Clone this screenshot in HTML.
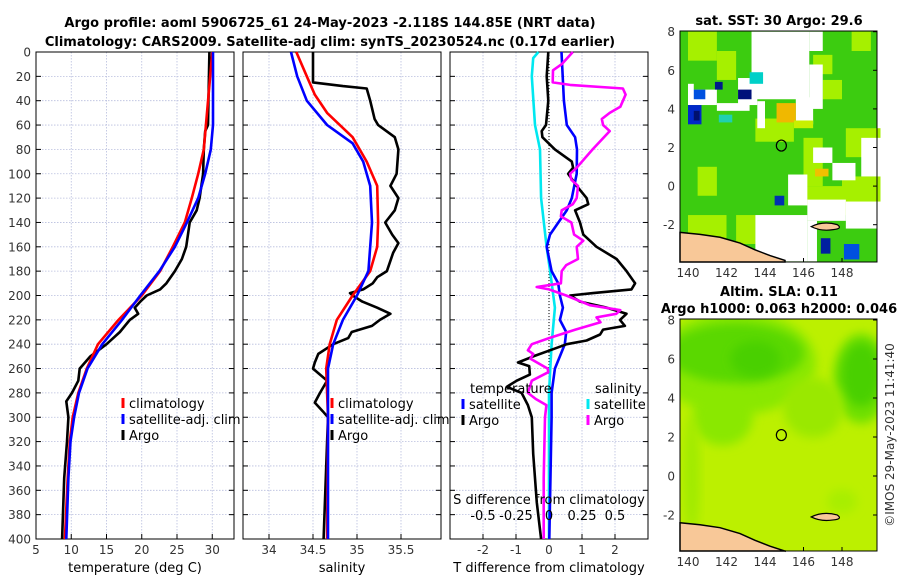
<!DOCTYPE html>
<html><head><meta charset="utf-8">
<style>
body{margin:0;background:#fff;}
svg{display:block;font-family:"DejaVu Sans","Liberation Sans",sans-serif;}
.tk{font-size:12px;fill:#333;}
.ttl{font-size:13px;font-weight:bold;fill:#000;}
.lg{font-size:13px;fill:#000;}
</style></head><body>
<svg id="chart" width="900" height="580" viewBox="0 0 900 580" xmlns="http://www.w3.org/2000/svg">
<text class="ttl" x="330" y="27" text-anchor="middle">Argo profile: aoml 5906725_61 24-May-2023 -2.118S 144.85E (NRT data)</text>
<text class="ttl" x="330" y="46" text-anchor="middle">Climatology: CARS2009. Satellite-adj clim: synTS_20230524.nc (0.17d earlier)</text>
<g id="g"></g>
</svg>
<script>
// ---- data (depth m) ----
const depthTA=[0,60,65,80,100,120,130,140,160,170,180,190,195,200,205,210,215,220,230,240,250,260,270,280,287,300,320,350,400];
const tempArgo=[29.6,29.4,29.0,28.8,28.7,28.2,27.8,26.8,26.3,25.7,24.7,23.5,22.6,20.7,19.8,19.0,19.5,18.3,16.9,15.0,12.7,11.2,11.0,10.1,9.3,9.6,9.4,9.0,8.7];
const depthTC=[0,80,100,120,140,160,180,200,220,240,260,280,300,320,350,400];
const tempClim=[30.0,28.8,28.0,27.1,26.1,24.4,22.6,20.0,16.7,13.8,12.2,11.0,10.2,9.8,9.5,9.1];
const depthTS=[0,60,80,100,120,140,160,180,200,220,240,260,280,300,320,350,400];
const tempSat=[30.1,30.1,29.8,29.0,28.0,26.4,24.7,22.5,19.8,17.2,14.4,12.3,11.1,10.4,9.9,9.6,9.3];
const depthSA=[0,25,28,30,40,55,60,70,80,100,110,120,130,140,150,157,165,180,185,190,195,198,200,205,210,215,220,225,230,235,240,248,255,260,265,270,280,288,295,300,320,400];
const salArgo=[34.50,34.50,34.84,35.11,35.15,35.20,35.24,35.43,35.47,35.45,35.38,35.47,35.43,35.32,35.40,35.47,35.41,35.34,35.23,35.18,35.07,34.92,34.95,35.06,35.23,35.38,35.26,35.17,34.94,34.90,34.73,34.56,34.52,34.50,34.58,34.66,34.58,34.52,34.61,34.67,34.66,34.62];
const depthSC=[0,20,35,50,70,90,110,140,160,180,200,220,240,260,300,400];
const salClim=[34.31,34.43,34.52,34.66,34.95,35.11,35.23,35.24,35.23,35.15,34.95,34.77,34.69,34.65,34.67,34.66];
const depthSS=[0,20,40,60,75,90,110,140,180,200,220,240,260,300,400];
const salSat=[34.25,34.32,34.43,34.66,34.95,35.07,35.15,35.17,35.13,35.00,34.84,34.73,34.67,34.67,34.67];
const depthDSS=[0,5,20,60,80,120,160,180,210,240,280,300,400];
const dSalSat=[-0.08,-0.12,-0.13,-0.106,-0.068,-0.06,-0.018,0.008,0.045,0.02,0,0,0];
const depthDTS=[0,40,60,70,80,100,120,130,150,160,180,190,200,210,220,230,240,260,280,300,400];
const dTempSat=[0.38,0.45,0.54,0.79,0.85,0.84,0.69,0.54,0.03,-0.07,0.08,0.28,0.33,0.42,0.33,0.52,0.48,0.18,0.08,0.08,0.01];
const depthDTA=[0,20,40,60,65,70,80,90,95,100,110,120,125,130,140,150,160,170,180,190,195,198,200,205,210,215,220,225,228,232,237,240,245,250,255,258,265,270,275,280,290,300,330,370,400];
const dTempArgo=[-0.02,-0.07,-0.02,-0.09,-0.22,-0.2,0.18,0.69,0.73,0.58,0.84,1.14,1.19,0.79,0.94,1.04,1.44,2.05,2.35,2.61,2.5,1.34,0.64,0.94,1.75,2.35,2.15,2.3,1.64,1.55,1.14,0.54,0.03,-0.48,-0.94,-0.6,-0.58,-0.98,-1.28,-0.83,-0.64,-0.52,-0.48,-0.37,-0.24];
const depthDSA=[0,10,15,25,27,30,35,45,50,55,60,65,80,95,100,105,110,120,125,130,135,140,150,155,160,170,175,180,190,193,195,200,208,212,215,218,222,228,235,240,245,248,252,260,263,270,280,285,290,300,350,400];
const dSalArgo=[0.18,0.096,0.03,0.028,0.16,0.56,0.58,0.54,0.46,0.40,0.41,0.46,0.33,0.21,0.16,0.17,0.22,0.21,0.18,0.096,0.09,0.17,0.19,0.26,0.21,0.22,0.13,0.096,0.09,-0.093,0.0,0.13,0.31,0.54,0.51,0.36,0.39,0.20,0.0,-0.13,-0.16,-0.12,-0.14,-0.01,-0.005,-0.13,-0.16,-0.1,-0.02,-0.03,-0.04,-0.04];
const depthTicks=[0,20,40,60,80,100,120,140,160,180,200,220,240,260,280,300,320,340,360,380,400];
const tempTicks=[5,10,15,20,25,30];
const salTicks=[34,34.5,35,35.5];
const dTTicks=[-2,-1,0,1,2];
const dSTickLabels=["-0.5","-0.25","0","0.25","0.5"];
const dSTicks=[-0.5,-0.25,0,0.25,0.5];
const lonTicks=[140,142,144,146,148];
const latTicks=[8,6,4,2,0,-2];
const argoLon=144.85, argoLat=2.1;

// ---- scales ----
const yD=d=>52+d*1.2175;
const xT=t=>36+(t-5)*7.05;
const xS=s=>269+(s-34)*88;
const xDT=t=>549+t*33;
const xDS=s=>549+s*132;
const mx=l=>688+(l-140)*19.25;
const my1=l=>31.7+(8-l)*19.3;
const my2=l=>320+(8-l)*19.5;

const NS="http://www.w3.org/2000/svg";
const G=document.getElementById('g');
function mk(tag,at,parent){const e=document.createElementNS(NS,tag);for(const k in at)e.setAttribute(k,at[k]);(parent||G).appendChild(e);return e;}
function txt(s,at,parent){const e=mk('text',at,parent);e.textContent=s;return e;}

function panel(x0,x1,name,xticks,xf,xlabels,xTitle){
  const p=mk('g',{});
  
  
  depthTicks.forEach(d=>{const l=mk('line',{x1:x0,x2:x1,y1:yD(d),y2:yD(d),stroke:'#b8bede','stroke-width':0.8,'stroke-dasharray':'1.5,1.5'},p);
    
    mk('line',{x1:x0,x2:x0+5,y1:yD(d),y2:yD(d),stroke:'#000'},p);mk('line',{x1:x1-5,x2:x1,y1:yD(d),y2:yD(d),stroke:'#000'},p);});
  xticks.forEach((v,i)=>{const x=xf(v);
    const l=mk('line',{x1:x,x2:x,y1:52,y2:539,stroke:'#b8bede','stroke-width':0.8,'stroke-dasharray':'1.5,1.5'},p);
    
    mk('line',{x1:x,x2:x,y1:539,y2:534,stroke:'#000'},p);
    if(xlabels){const t=txt(xlabels[i],{x:x,y:554,'text-anchor':'middle',class:'tk'},p);}
  });
  const r=mk('rect',{x:x0,y:52,width:x1-x0,height:487,fill:'none',stroke:'#000','stroke-width':1},p);
  
  if(xTitle){const t=txt(xTitle,{x:(x0+x1)/2,y:572,'text-anchor':'middle',class:'lg'},p);}
  return p;
}
function line(ds,vs,xf,color,name,w){
  const pts=ds.map((d,i)=>xf(vs[i]).toFixed(1)+','+yD(d).toFixed(1)).join(' ');
  const e=mk('polyline',{points:pts,fill:'none',stroke:color,'stroke-width':w||2.6,'stroke-linejoin':'round'});
  
  
}
function legendEntry(x,y,color,label,name){
  const g=mk('g',{});
  
  
  mk('line',{x1:x,x2:x,y1:y-10,y2:y,stroke:color,'stroke-width':3},g);
  txt(label,{x:x+6,y:y,class:'lg'},g);
}

depthTicks.forEach(d=>{const t=txt(String(d),{x:31,y:yD(d)+4.5,'text-anchor':'end',class:'tk'});
  });

panel(36,234,'temperature-panel',tempTicks,xT,tempTicks.map(String),'temperature (deg C)');
line(depthTA,tempArgo,xT,'#000','temp-argo-line');
line(depthTC,tempClim,xT,'#ff0000','temp-climatology-line');
line(depthTS,tempSat,xT,'#0000ff','temp-satellite-line');
legendEntry(123,408,'#ff0000','climatology','legend-climatology');
legendEntry(123,424,'#0000ff','satellite-adj. clim','legend-satellite-adj');
legendEntry(123,440,'#000','Argo','legend-argo');

panel(243,441,'salinity-panel',salTicks,xS,salTicks.map(String),'salinity');
line(depthSA,salArgo,xS,'#000','sal-argo-line');
line(depthSC,salClim,xS,'#ff0000','sal-climatology-line');
line(depthSS,salSat,xS,'#0000ff','sal-satellite-line');
legendEntry(332,408,'#ff0000','climatology','legend-climatology-2');
legendEntry(332,424,'#0000ff','satellite-adj. clim','legend-satellite-adj-2');
legendEntry(332,440,'#000','Argo','legend-argo-2');

panel(450,648,'difference-panel',dTTicks,xDT,dTTicks.map(String),'T difference from climatology');
mk('line',{x1:xDT(0),x2:xDT(0),y1:52,y2:539,stroke:'#000','stroke-width':1,'stroke-dasharray':'1,2'});
line(depthDSS,dSalSat,xDS,'#00e8f0','dsal-satellite-line');
line(depthDTS,dTempSat,xDT,'#0000ff','dtemp-satellite-line');
line(depthDTA,dTempArgo,xDT,'#000','dtemp-argo-line');
line(depthDSA,dSalArgo,xDS,'#ff00ff','dsal-argo-line');
dSTicks.forEach((v,i)=>{const t=txt(dSTickLabels[i],{x:xDS(v),y:520,'text-anchor':'middle',class:'lg'});});
{const t=txt('S difference from climatology',{x:549,y:504,'text-anchor':'middle',class:'lg'});}
{const t=txt('temperature',{x:470,y:393,class:'lg'});}
{const t=txt('salinity',{x:595,y:393,class:'lg'});}
legendEntry(463,409,'#0000ff','satellite','legend-temp-satellite');
legendEntry(463,425,'#000','Argo','legend-temp-argo');
legendEntry(588,409,'#00e8f0','satellite','legend-sal-satellite');
legendEntry(588,425,'#ff00ff','Argo','legend-sal-argo');

// ---- maps ----
function mapAxes(my,y0,y1,name,title1,title2){
  const g=mk('g',{});
  
  
  latTicks.forEach(l=>{txt(String(l),{x:675,y:my(l)+4.5,'text-anchor':'end',class:'tk'},g);
    mk('line',{x1:873,x2:877,y1:my(l),y2:my(l),stroke:'#000'},g);});
  lonTicks.forEach(l=>{txt(String(l),{x:mx(l),y:y1+15,'text-anchor':'middle',class:'tk'},g);
    mk('line',{x1:mx(l),x2:mx(l),y1:y1,y2:y1-4,stroke:'#000'},g);});
  mk('rect',{x:680,y:y0,width:197,height:y1-y0,fill:'none',stroke:'#000'},g);
  const land=mk('polygon',{points:`680,${my(-2.4)} 700,${my(-2.5)} 720,${my(-2.65)} 740,${my(-2.95)} 755,${my(-3.3)} 770,${my(-3.6)} 785,${my(-3.85)} 785,${y1} 680,${y1}`,fill:'#f8c898',stroke:'#000','stroke-width':1.5},g);
  
  const isl=mk('path',{d:`M${mx(146.4)},${my(-2.1)} q12,-6 26,-2 q6,4 -4,5 q-12,2 -22,-3z`,fill:'#f8c898',stroke:'#000','stroke-width':1.2},g);
  
  const c=mk('ellipse',{cx:mx(argoLon),cy:my(argoLat),rx:5,ry:5.5,fill:'none',stroke:'#000','stroke-width':1.2},g);
  
  const t1=txt(title1,{x:779,y:y0-(title2?23:6),'text-anchor':'middle',class:'ttl'});
  
  if(title2){const t2=txt(title2,{x:779,y:y0-6,'text-anchor':'middle',class:'ttl'});}
}
// map1 SST
const m1=mk('g',{});


mk('rect',{x:680,y:31,width:197,height:231,fill:'#3ccc10'},m1);
const ygPatches=[[140,8,141.5,6.5],[141.5,7,142.5,5.5],[146,2.5,147,0],[148.2,3,150,1.5],[146,0,148,-1],[140,-1.5,142,-3],[142.5,-1.5,143.5,-3],[146.5,6.8,147.5,5.8],[148,0.5,150,-1.5],[143.5,3.5,145.5,2.3],[140.5,1,141.5,-0.5],[148.5,8,149.5,7],[147,5.5,148,4.5]];
ygPatches.forEach(p=>{mk('rect',{x:mx(p[0]),y:my1(p[1]),width:mx(p[2])-mx(p[0]),height:my1(p[3])-my1(p[1]),fill:'#a6f000'},m1);});
const whitePatches=[[143.3,8,146.3,4.5],[142.6,5.6,143.6,4.2],[146.3,8,147,7],[146.3,6.3,147,4.0],[145.6,4.6,146.5,3.2],[140,5,141.5,4.2],[141.5,4.3,143.2,3.9],[143.6,4.4,144,3.0],[146.5,2.0,147.5,1.2],[147.5,1.2,148.7,0.3],[145.2,0.6,146.2,-1],[146.2,-0.7,148.2,-1.8],[143.5,-1.5,146.2,-3.9],[149,2.5,150,0.5],[140,5.3,140.3,4.8],[148.2,-0.8,150,-2.2],[146.2,-1.8,146.7,-3.9]];
whitePatches.forEach(p=>{const r=mk('rect',{x:mx(p[0]),y:my1(p[1]),width:mx(p[2])-mx(p[0]),height:my1(p[3])-my1(p[1]),fill:'#fff'},m1);});
const colorPatches=[[140,4.2,140.7,3.2,'#0028c8'],[140.3,3.9,140.6,3.4,'#00106e'],[140.3,5.0,140.9,4.5,'#0050e0'],[142.6,5.0,143.3,4.5,'#00107a'],[141.4,5.4,141.8,5.0,'#001a8c'],[143.2,5.9,143.9,5.3,'#00d0c8'],[141.6,3.7,142.3,3.3,'#20d0b0'],[144.6,4.3,145.6,3.3,'#f0b800'],[146.6,0.9,147.3,0.5,'#f0c000'],[146.9,-2.7,147.4,-3.5,'#0020a0'],[148.1,-3.0,148.9,-3.8,'#0050e0'],[144.5,-0.5,145,-1,'#0030b0'],[145.5,3.4,146.5,3.0,'#c8f000']];
colorPatches.forEach(p=>{mk('rect',{x:mx(p[0]),y:my1(p[1]),width:mx(p[2])-mx(p[0]),height:my1(p[3])-my1(p[1]),fill:p[4]},m1);});
mapAxes(my1,31,262,'sst-map','sat. SST: 30 Argo: 29.6');

// map2 SLA
const m2=mk('g',{});


const defs=mk('defs',{});
const f=mk('filter',{id:'blur',x:'-30%',y:'-30%',width:'160%',height:'160%'},defs);
mk('feGaussianBlur',{stdDeviation:5},f);
const cp=mk('clipPath',{id:'m2clip'},defs);mk('rect',{x:680,y:319,width:197,height:232},cp);
const mg=mk('g',{'clip-path':'url(#m2clip)'},m2);
mk('rect',{x:680,y:319,width:197,height:232,fill:'#bcf000'},mg);
const blobs=[[142.5,5.8,80,52,'#8ae800'],[142.5,6.3,68,30,'#5ad800'],[143.5,6.0,25,18,'#48d000'],[149,5.0,28,45,'#70e000'],[149,5.2,20,32,'#48d000'],[141.8,3.0,30,28,'#8ae800'],[146.5,3.5,30,30,'#9ae800'],[140.2,0,8,60,'#a0ea00'],[148,-1.3,15,12,'#a8ee00']];
blobs.forEach(b=>{mk('ellipse',{cx:mx(b[0]),cy:my2(b[1]),rx:b[2],ry:b[3],fill:b[4],filter:'url(#blur)'},mg);});
mapAxes(my2,319,551,'sla-map','Altim. SLA: 0.11','Argo h1000: 0.063 h2000: 0.046');
{const t=txt('©IMOS 29-May-2023 11:41:40',{x:0,y:0,transform:'translate(894,435) rotate(-90)','text-anchor':'middle',class:'tk'});
 }
</script>
</body></html>
